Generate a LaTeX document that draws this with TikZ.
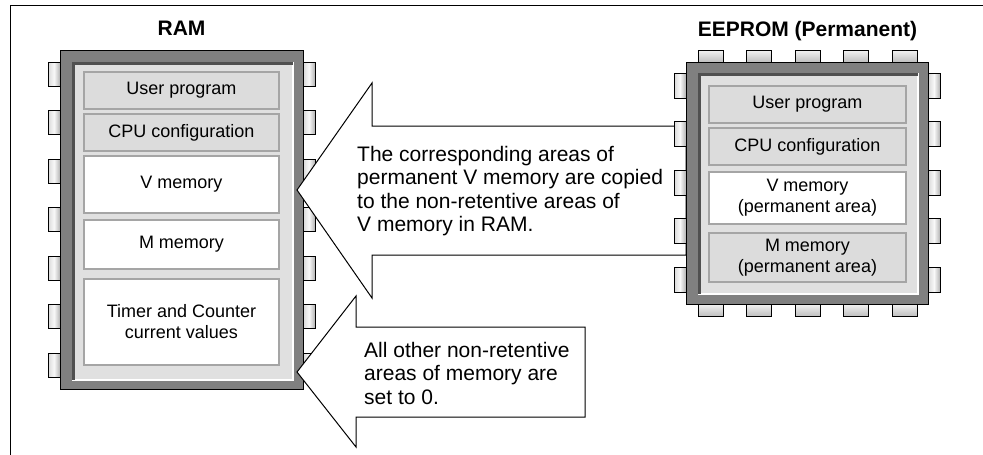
\documentclass[tikz,border=0pt]{standalone}
\usepackage{fontspec}
\setmainfont{Liberation Sans}
\definecolor{chipgray}{RGB}{128,128,128}
\definecolor{panelgray}{RGB}{224,224,224}
\definecolor{shadowgray}{RGB}{80,80,80}
\definecolor{boxgray}{RGB}{220,220,220}
\definecolor{boxborder}{RGB}{165,165,165}
\begin{document}
\begin{tikzpicture}[x=1pt,y=-1pt,line join=miter,
  chipbody/.style={draw=black,line width=1pt,fill=chipgray},
  hpin/.style={draw=black,line width=0.8pt,left color=gray!30,right color=gray!60,middle color=white!95!gray},
  vpin/.style={draw=black,line width=0.8pt,top color=white!90!gray,bottom color=gray!50},
  membox/.style={draw=boxborder,line width=2pt,inner sep=0pt,align=center,font=\fontsize{18}{21}\selectfont},
  bigarrow/.style={draw=black,fill=white,line width=1pt},
  arrowtext/.style={anchor=base west,align=left,inner sep=0pt,font=\fontsize{21}{23.5}\selectfont},
  title/.style={anchor=base,inner sep=0pt,font=\bfseries\fontsize{21}{24}\selectfont}]
\useasboundingbox (0,0) rectangle (983,455);
% frame
\draw[line width=1pt] (10,455) -- (10,5) -- (983,5);

% ---------------- RAM chip
\node[title] (ramtitle) at (181.5,35) {RAM};
\foreach \i in {0,...,6}{
  \path[hpin] (48,62+48.5*\i) rectangle (60,86+48.5*\i);
  \path[hpin] (303,62+48.5*\i) rectangle (315,86+48.5*\i);
}
\path[chipbody] (60,50) rectangle (303,389);
\fill[panelgray] (72,62) rectangle (293,380);
\draw[white,line width=2pt] (72,380) -- (293,380) -- (293,62);
\draw[shadowgray,line width=3pt] (73.5,380) -- (73.5,63.5) -- (293,63.5);
\node[membox,fill=boxgray,minimum width=195pt,minimum height=37pt] (r1) at (181.5,90.5) {User program};
\node[membox,fill=boxgray,minimum width=195pt,minimum height=37pt] (r2) at (181.5,132.5) {CPU configuration};
\node[membox,fill=white,minimum width=195pt,minimum height=57pt] (r3) at (181.5,184.5) {V memory};
\node[membox,fill=white,minimum width=195pt,minimum height=49pt] (r4) at (181.5,244.5) {M memory};
\node[membox,fill=white,minimum width=195pt,minimum height=86pt] (r5) at (181.5,322) {Timer and Counter\\current values};

% ---------------- arrow 1 (under EEPROM pins)
\path[bigarrow] (297,190) -- (372,83) -- (372,126) -- (686,126) -- (686,255) -- (372,255) -- (372,298) -- cycle;
\node[arrowtext] (t1) at (357,231.5) {The corresponding areas of\\permanent V memory are copied\\to the non-retentive areas of\\V memory in RAM.};

% ---------------- arrow 2
\path[bigarrow] (297,372) -- (356,296) -- (356,327) -- (585,327) -- (585,417) -- (356,417) -- (356,447) -- cycle;
\node[arrowtext] (t2) at (364,404) {All other non-retentive\\areas of memory are\\set to 0.};

% ---------------- EEPROM chip
\node[title] (eetitle) at (807.5,36) {EEPROM (Permanent)};
\foreach \i in {0,...,4}{
  \path[vpin] (698+48.5*\i,50) rectangle (723+48.5*\i,62);
  \path[vpin] (698+48.5*\i,304) rectangle (723+48.5*\i,316);
  \path[hpin] (674,73+48.5*\i) rectangle (686,98+48.5*\i);
  \path[hpin] (928,73+48.5*\i) rectangle (940,98+48.5*\i);
}
\path[chipbody] (686,62) rectangle (928,304);
\fill[panelgray] (698,73) rectangle (918,294);
\draw[white,line width=2pt] (698,294) -- (918,294) -- (918,73);
\draw[shadowgray,line width=3pt] (699.5,294) -- (699.5,74.5) -- (918,74.5);
\node[membox,fill=boxgray,minimum width=197pt,minimum height=37pt] (e1) at (807.5,104.5) {User program};
\node[membox,fill=boxgray,minimum width=197pt,minimum height=37pt] (e2) at (807.5,146.5) {CPU configuration};
\node[membox,fill=white,minimum width=197pt,minimum height=52pt] (e3) at (807.5,198) {V memory\\(permanent area)};
\node[membox,fill=boxgray,minimum width=197pt,minimum height=49pt] (e4) at (807.5,257.5) {M memory\\(permanent area)};
\end{tikzpicture}
\end{document}
